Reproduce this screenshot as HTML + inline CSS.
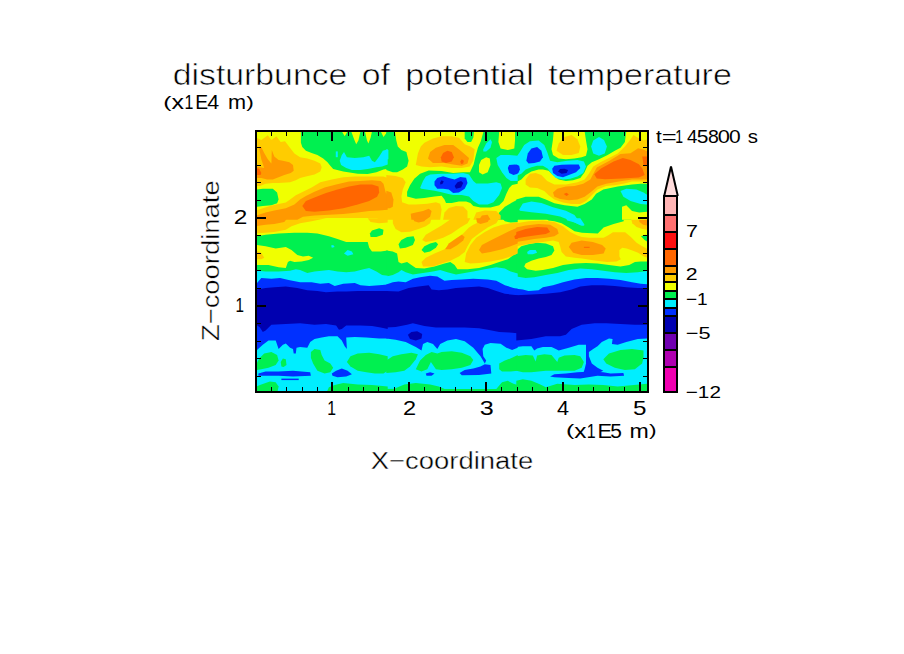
<!DOCTYPE html>
<html><head><meta charset="utf-8"><style>
html,body{margin:0;padding:0;background:#fff;width:904px;height:654px;overflow:hidden}
svg{display:block}
text{font-family:"Liberation Sans",sans-serif;fill:#000}
.thin{stroke:#fff;stroke-width:0.6px}
.thin2{stroke:#fff;stroke-width:0.4px}
</style></head><body>
<svg width="904" height="654" viewBox="0 0 904 654" shape-rendering="crispEdges">
<rect width="904" height="654" fill="#fff"/>
<!-- PLOT -->
<defs><clipPath id="pc"><rect x="257" y="132" width="390" height="259"/></clipPath></defs>
<g id="plot" clip-path="url(#pc)" shape-rendering="geometricPrecision">
<rect x="257" y="132" width="390" height="259" fill="#f0ff00"/>
<!--PLOT-START-->
<g fill="#00f050">
<polygon points="300.9,131.3 341.8,131.3 344.7,136.3 347.6,131.3 351.2,131.3 354.1,139.2 356.2,144.2 358.4,140.6 360.5,131.3 364.9,131.3 367.0,140.6 368.4,143.5 370.6,137.8 372.0,131.3 380.7,131.3 383.5,137.0 387.7,131.3 387.7,168.7 383.5,169.4 376.4,172.3 367.7,174.0 357.7,173.7 343.3,171.5 333.2,169.1 330.3,165.8 327.5,162.2 323.2,158.6 317.4,155.0 311.6,152.9 305.9,150.7 302.3,147.1 300.9,142.8"/>
<polygon points="256.3,189.5 262.8,188.8 272.8,188.8 277.1,192.4 278.6,199.6 277.1,203.2 271.4,205.3 262.8,206.1 256.3,206.8"/>
<polygon points="386.3,131.3 394.9,131.3 396.3,140.6 397.8,146.4 401.4,150.0 406.4,152.1 408.6,160.8 407.1,166.5 402.8,169.4 397.1,172.3 392.8,172.3 386.3,170.1"/>
<polygon points="464.7,131.3 474.0,131.3 473.3,137.8 471.1,142.1 467.5,142.1 464.7,138.5"/>
<polygon points="483.6,131.3 499.2,131.3 498.4,142.1 500.6,148.5 507.8,150.0 514.3,148.5 515.0,140.6 515.0,131.3 517.7,131.3 517.7,183.8 512.1,185.1 509.2,187.9 506.4,193.7 503.5,200.9 499.2,205.2 490.5,207.4 480.5,207.4 473.3,205.9 470.4,203.0 466.1,201.6 458.9,201.6 451.7,203.0 446.0,203.0 444.5,199.4 441.6,195.8 434.5,196.6 424.4,198.0 415.8,198.7 407.1,196.6 407.1,191.7 410.0,185.2 414.3,178.7 420.1,173.7 428.7,170.5 441.6,171.1 453.2,173.0 463.2,172.3 470.0,172.3 473.6,164.4 475.7,155.7 477.9,147.8 480.8,141.3"/>
<polygon points="496.3,219.7 499.2,212.5 504.9,206.8 512.1,202.5 517.7,199.6 517.7,219.7"/>
<polygon points="516.3,131.3 553.7,131.3 553.0,139.2 551.5,149.3 553.0,155.0 558.7,158.6 565.9,159.3 574.5,158.6 581.7,157.2 586.0,155.7 587.5,149.3 586.0,140.6 584.6,131.3 626.3,131.3 624.9,142.1 620.5,147.8 614.8,150.7 607.6,155.0 599.0,159.3 591.8,162.2 587.5,165.8 584.6,172.3 580.3,178.0 573.1,180.2 565.9,180.9 558.7,179.5 553.0,175.1 548.6,170.8 542.9,169.4 538.6,169.4 531.4,171.5 525.6,175.1 521.3,179.5 516.3,182.3"/>
<polygon points="516.3,199.6 525.6,196.7 538.6,196.7 545.8,199.6 554.4,203.2 564.5,205.3 577.4,206.8 584.6,203.9 591.8,199.6 596.1,193.8 603.3,189.5 617.7,186.6 632.0,184.5 640.7,183.8 647.7,183.8 647.7,219.7 516.3,219.7"/>
<polygon points="256.3,236.3 265.6,234.8 278.6,233.4 294.4,232.7 307.3,232.7 317.4,233.4 328.9,236.3 337.5,239.1 346.2,242.0 357.7,242.0 367.7,242.0 369.2,247.8 372.0,251.4 380.7,251.4 387.7,250.6 387.7,306.7 256.3,306.7"/>
<polygon points="369.9,233.4 372.0,230.5 379.2,228.3 383.5,229.8 382.8,234.8 376.4,237.0 370.6,237.0"/>
<polygon points="386.3,250.6 392.8,251.4 397.1,253.5 398.5,262.1 401.4,263.6 407.1,262.1 411.4,265.0 415.8,267.9 424.4,268.6 434.5,266.5 444.5,263.6 450.3,262.1 454.6,265.0 457.5,269.3 467.5,269.3 479.0,267.9 490.5,265.0 499.2,262.1 507.8,259.3 513.5,255.0 517.7,253.5 517.7,306.7 386.3,306.7"/>
<polygon points="545.8,218.3 623.7,218.3 623.7,221.2 613.6,224.0 603.6,227.6 597.8,233.4 582.0,232.7 574.5,231.2 568.8,227.6 561.6,223.3 554.4,221.2 548.6,220.4"/>
<polygon points="516.3,250.6 521.3,246.3 528.5,244.2 537.1,242.7 545.8,243.4 553.0,246.3 554.4,250.6 551.5,255.0 545.8,257.1 538.6,258.5 531.4,260.7 525.6,263.6 524.2,266.5 527.1,269.3 535.7,270.8 542.9,270.1 553.0,267.9 563.0,265.0 574.5,263.6 586.0,262.9 597.5,263.6 609.0,265.0 620.5,266.5 629.2,265.0 634.9,262.1 640.7,261.4 647.7,261.4 647.7,306.7 516.3,306.7"/>
<polygon points="641.0,236.3 645.3,234.8 647.7,235.5 647.7,242.0 644.6,239.9"/>
</g>
<g fill="#00eeff">
<polygon points="335.8,151.4 337.8,151.4 337.8,157.2 335.8,157.2"/>
<polygon points="339.7,160.8 341.8,155.0 344.0,152.1 346.9,157.2 354.8,157.9 363.4,157.2 369.2,155.7 372.0,160.8 374.9,162.2 379.2,156.4 382.8,150.7 387.7,149.3 387.7,164.4 382.1,166.5 376.4,167.2 369.2,168.7 360.5,170.1 351.9,170.1 346.2,168.0 341.1,165.1"/>
<polygon points="386.3,149.3 388.4,150.0 388.4,159.3 386.3,159.3"/>
<polygon points="483.3,149.3 486.2,143.5 490.5,139.2 492.0,142.1 490.5,147.8 486.2,151.4 483.3,151.4"/>
<polygon points="420.1,188.1 423.0,180.9 425.8,176.6 430.1,174.4 441.6,173.7 453.2,173.7 463.2,173.0 469.0,174.4 473.3,180.9 476.2,183.6 487.7,183.6 496.3,182.2 500.6,183.6 502.0,187.9 499.2,195.1 493.4,202.3 487.7,204.5 479.0,204.5 473.3,200.9 469.0,196.6 461.8,195.1 453.2,195.1 447.4,193.7 441.6,192.3 434.5,190.8 421.5,188.7"/>
<polygon points="496.3,157.9 500.6,155.0 509.2,155.0 517.7,155.7 517.7,180.9 510.7,180.9 506.4,178.0 502.0,172.3 497.7,165.1"/>
<polygon points="516.3,157.2 519.9,152.1 524.2,144.9 529.9,141.3 538.6,140.6 544.3,144.9 547.2,152.1 550.1,160.8 557.3,162.2 567.3,160.8 577.4,160.0 583.9,161.5 586.0,166.5 583.2,173.0 577.4,176.6 570.2,178.7 563.0,179.5 555.8,178.0 551.5,173.7 547.9,168.7 542.9,165.8 537.1,165.8 531.4,167.2 525.6,169.4 521.3,173.7 516.3,175.9"/>
<polygon points="591.1,146.4 593.2,140.6 599.0,137.0 604.0,139.9 606.9,146.4 604.7,153.6 599.0,155.7 593.2,153.6"/>
<polygon points="519.2,209.4 522.8,203.6 531.4,201.5 541.4,202.9 553.0,207.2 565.9,210.8 574.5,215.1 578.8,220.9 584.6,225.9 580.3,225.2 571.6,220.9 560.1,216.6 545.8,213.7 531.4,212.2 519.9,210.8"/>
<polygon points="620.5,191.0 626.3,188.8 636.4,189.5 643.5,192.4 647.7,195.3 647.7,204.6 640.7,203.9 630.6,201.0 623.4,196.7"/>
<polygon points="256.3,270.8 265.6,271.5 278.6,271.5 290.1,270.8 295.8,269.3 300.1,270.1 307.3,272.9 314.5,271.5 321.7,270.8 328.9,270.1 337.5,271.5 346.2,272.2 354.8,271.5 363.4,269.3 369.2,267.9 376.4,271.5 382.1,275.1 387.7,275.8 387.7,306.7 256.3,306.7"/>
<polygon points="344.0,253.5 347.6,249.9 351.9,251.4 353.3,254.2 347.6,255.7"/>
<polygon points="331.1,245.6 333.2,244.9 334.7,247.0 331.8,247.8"/>
<polygon points="386.3,276.5 392.8,275.1 398.5,272.2 401.4,270.1 405.7,272.2 412.9,274.4 423.0,272.9 433.0,271.5 440.2,270.1 447.4,272.2 456.0,274.4 464.7,272.9 473.3,271.5 484.8,269.3 496.3,267.2 504.9,268.6 510.7,271.5 517.7,273.6 517.7,306.7 386.3,306.7"/>
<polygon points="565.9,218.3 580.3,218.3 584.6,224.8 581.7,225.5 574.5,222.6 567.3,220.4"/>
<polygon points="527.1,252.1 529.9,249.9 535.7,249.9 537.1,252.8 532.8,254.2 527.8,254.2"/>
<polygon points="516.3,276.5 525.6,278.0 534.3,277.2 545.8,275.1 557.3,272.9 568.8,270.1 580.3,268.6 591.8,269.3 603.3,270.8 614.8,272.2 626.3,272.9 637.8,272.2 647.7,270.8 647.7,306.7 516.3,306.7"/>
<polygon points="256.3,305.3 387.7,305.3 387.7,393.7 256.3,393.7"/>
<polygon points="386.3,305.3 517.7,305.3 517.7,393.7 386.3,393.7"/>
<polygon points="516.3,305.3 647.7,305.3 647.7,393.7 516.3,393.7"/>
</g>
<g fill="#0030ff">
<polygon points="434.5,181.6 437.3,178.0 443.1,176.3 448.8,178.0 454.6,179.5 460.3,176.9 466.1,177.7 467.5,183.1 464.7,188.8 458.9,192.4 453.2,193.1 448.8,189.5 443.1,188.8 437.3,188.8 434.5,185.2"/>
<polygon points="507.8,168.0 509.2,165.1 515.0,164.4 517.7,165.1 517.7,173.7 513.5,175.1 509.2,173.0"/>
<polygon points="526.3,160.8 527.8,153.6 531.4,148.5 537.1,147.1 541.4,150.7 542.9,157.2 540.0,161.5 534.3,162.9 528.5,163.6"/>
<polygon points="552.2,168.7 554.4,165.8 561.6,164.8 570.2,164.4 578.8,164.4 580.3,168.0 576.0,172.3 568.8,175.1 563.0,177.3 557.3,175.9 553.0,173.0"/>
<polygon points="516.3,164.4 519.2,165.8 519.9,169.4 518.4,173.0 516.3,173.0"/>
<polygon points="256.3,283.7 261.3,278.0 271.4,278.7 280.0,278.0 288.6,280.1 300.1,282.3 311.6,282.3 320.3,283.7 328.9,283.0 334.7,285.9 343.3,283.7 354.8,283.0 360.5,285.2 369.2,285.9 379.2,285.2 387.7,284.4 387.7,306.7 256.3,306.7"/>
<polygon points="386.3,284.4 392.8,282.3 398.5,281.6 405.7,282.3 412.9,278.7 420.1,277.2 430.1,275.8 437.3,276.5 444.5,280.8 451.7,280.1 461.8,279.4 473.3,278.7 487.7,279.4 496.3,280.8 504.9,285.2 513.5,288.0 517.7,288.7 517.7,306.7 386.3,306.7"/>
<polygon points="516.3,288.7 522.8,289.5 528.5,290.9 538.6,290.2 542.9,287.3 553.0,285.2 563.0,282.3 574.5,279.4 586.0,278.0 597.5,278.0 609.0,278.7 620.5,280.1 632.0,282.3 640.7,283.7 647.7,284.4 647.7,306.7 516.3,306.7"/>
<polygon points="256.3,305.3 387.7,305.3 387.7,338.4 379.2,338.4 366.3,337.6 354.8,336.9 346.2,337.6 346.9,349.1 344.7,346.3 341.8,340.5 337.5,336.2 328.9,336.2 321.7,337.6 314.5,339.1 310.2,342.0 307.3,347.7 300.1,347.0 296.5,347.7 295.8,353.5 293.7,353.5 293.0,349.1 290.1,347.7 285.8,343.4 282.9,344.8 278.6,349.1 275.7,340.5 268.5,340.5 262.8,344.8 256.3,350.6"/>
<polygon points="386.3,305.3 517.7,305.3 517.7,347.7 512.1,349.9 506.4,347.7 500.6,343.7 490.5,343.1 484.8,344.8 482.6,349.1 483.3,356.3 486.2,360.6 484.8,363.5 480.5,356.3 473.3,347.7 464.7,341.2 456.0,339.1 447.4,340.5 440.2,344.1 437.3,349.1 433.0,344.1 427.3,342.0 423.0,344.1 421.5,350.6 415.8,347.0 405.7,342.0 395.6,339.8 386.3,338.4"/>
<polygon points="516.3,305.3 647.7,305.3 647.7,338.4 637.8,339.1 626.3,342.0 617.7,344.8 611.9,344.1 612.6,339.1 609.0,338.4 601.8,342.0 597.5,346.3 593.2,349.1 588.9,352.0 588.9,356.3 591.8,363.5 597.5,367.8 603.3,370.7 597.5,373.6 583.2,373.6 584.6,369.3 586.0,363.5 586.0,344.8 578.8,344.8 568.8,347.7 558.7,350.6 555.8,349.1 551.5,347.0 542.9,347.0 537.1,348.4 534.3,350.6 531.4,346.3 522.8,346.3 516.3,347.0"/>
</g>
<g fill="#0000b0">
<polygon points="440.2,182.3 441.6,180.2 443.8,181.6 442.4,184.1 440.2,184.5"/>
<polygon points="454.6,185.9 457.5,182.3 461.1,180.9 463.2,183.1 461.1,187.4 456.0,188.8"/>
<polygon points="558.0,171.5 560.1,169.1 564.5,168.7 568.1,170.1 566.6,173.0 561.6,173.7"/>
<polygon points="256.3,289.5 265.6,288.0 274.3,287.3 285.8,286.6 297.3,288.0 307.3,290.2 317.4,290.9 326.0,292.3 337.5,291.6 346.2,291.6 357.7,290.9 372.0,290.9 387.7,290.9 387.7,306.7 256.3,306.7"/>
<polygon points="386.3,290.9 398.5,291.6 408.6,288.0 418.6,286.6 428.7,285.2 431.6,289.5 438.8,290.2 447.4,289.5 456.0,288.0 467.5,287.3 479.0,286.6 487.7,288.0 496.3,290.9 504.9,293.8 517.7,295.2 517.7,306.7 386.3,306.7"/>
<polygon points="516.3,295.2 531.4,294.5 545.8,293.8 560.1,292.3 571.6,289.5 580.3,286.6 591.8,285.2 603.3,285.2 614.8,285.9 626.3,287.3 637.8,288.0 647.7,288.0 647.7,306.7 516.3,306.7"/>
<polygon points="256.3,305.3 387.7,305.3 387.7,329.0 380.7,327.6 372.0,326.1 360.5,325.4 346.2,325.4 341.8,329.0 339.0,329.7 336.1,325.4 326.0,324.0 314.5,324.7 300.1,323.3 285.8,324.0 271.4,324.7 265.6,330.4 262.8,331.9 259.9,327.6 256.3,324.7"/>
<polygon points="386.3,305.3 517.7,305.3 517.7,333.3 509.2,332.6 499.2,331.9 487.7,329.7 479.0,328.3 464.7,327.6 450.3,327.6 435.9,327.6 424.4,326.1 412.9,323.3 407.1,324.7 395.6,326.9 386.3,327.6"/>
<polygon points="516.3,305.3 647.7,305.3 647.7,324.7 634.9,324.7 620.5,324.0 606.2,323.3 594.7,323.3 581.7,324.7 571.6,329.0 565.9,334.8 560.1,336.2 545.8,336.2 531.4,339.1 516.3,340.5"/>
</g>
<g fill="#ffcc00">
<polygon points="256.3,137.8 261.3,139.9 267.8,135.2 271.4,139.9 276.4,136.3 280.7,142.1 285.0,141.3 289.4,147.1 294.4,153.6 300.1,157.2 307.3,158.6 314.5,160.8 320.3,163.6 321.7,167.2 320.3,171.5 314.5,174.4 305.9,176.6 300.1,178.0 295.8,180.2 290.1,182.3 278.6,183.1 272.8,183.1 265.6,183.8 259.9,185.9 256.3,185.9"/>
<polygon points="256.3,210.4 262.8,208.2 269.9,206.1 278.6,203.9 285.8,202.5 290.1,199.6 295.8,195.3 303.0,191.7 311.6,187.4 320.3,182.3 331.8,179.5 343.3,177.3 354.8,176.6 366.3,176.6 376.4,176.6 383.5,176.6 387.7,178.0 387.7,219.7 378.5,219.7 377.1,218.0 357.7,218.0 328.9,218.0 314.5,218.3 300.1,219.0 256.3,219.7"/>
<polygon points="415.8,165.1 417.9,153.6 420.8,146.4 424.4,142.8 433.0,138.5 441.6,136.3 451.7,136.3 458.9,137.8 464.7,144.2 470.4,146.4 474.7,149.3 473.3,160.8 469.7,166.5 461.8,168.0 451.7,168.0 441.6,166.5 430.1,167.2 421.5,166.5"/>
<polygon points="386.3,175.1 395.6,175.9 402.8,178.0 405.7,182.2 402.8,189.4 401.4,196.6 402.1,202.3 408.6,204.5 415.8,204.5 427.3,203.8 435.9,202.3 440.2,203.8 441.6,209.5 440.2,219.7 386.3,219.7"/>
<polygon points="443.1,219.7 444.5,212.4 448.8,208.1 456.0,205.9 463.2,206.6 467.5,210.9 467.5,219.7"/>
<polygon points="473.3,219.7 476.2,212.5 484.8,210.4 496.3,211.1 500.6,215.4 500.6,219.7"/>
<polygon points="556.5,150.7 558.7,143.5 564.5,137.0 571.6,134.9 577.4,139.2 580.3,146.4 578.8,152.9 571.6,155.0 563.0,155.0"/>
<polygon points="525.6,179.5 529.9,173.7 535.7,173.0 541.4,175.1 547.2,180.9 554.4,184.5 565.9,184.5 577.4,182.3 584.6,179.5 588.9,173.7 593.2,166.5 600.4,162.2 609.0,157.9 617.7,153.6 624.9,146.4 630.6,139.2 633.5,134.9 637.8,137.8 643.5,140.6 647.7,139.2 647.7,182.3 642.1,181.6 632.0,181.6 623.4,183.8 614.8,185.2 606.2,185.9 597.5,189.5 591.8,195.3 586.0,201.0 580.3,203.9 571.6,203.9 563.0,202.5 554.4,199.6 548.6,195.3 544.3,191.0 537.1,188.1 529.9,187.4 525.6,184.5"/>
<polygon points="256.3,218.3 326.0,218.3 311.6,221.2 300.1,223.3 291.5,226.2 285.8,229.8 274.3,231.9 265.6,232.7 256.3,233.4"/>
<polygon points="367.7,218.3 387.7,218.3 387.7,222.6 379.2,223.3 370.6,221.9"/>
<polygon points="392.8,218.3 431.6,218.3 430.1,223.3 425.8,226.2 418.6,229.1 410.0,231.7 401.4,232.2 395.6,229.1 392.8,223.3"/>
<polygon points="422.2,239.9 425.8,234.8 433.0,230.5 441.6,225.5 448.8,220.4 451.7,218.3 470.4,218.3 467.5,223.3 460.3,227.6 451.7,233.4 443.1,237.7 434.5,240.6 425.8,242.0"/>
<polygon points="421.5,262.1 425.8,257.8 434.5,253.5 444.5,249.2 450.3,243.4 457.5,237.7 463.2,233.4 469.0,227.6 473.3,224.8 479.0,221.9 486.2,218.3 499.2,218.3 496.3,223.3 487.7,227.6 479.0,233.4 471.8,239.1 467.5,246.3 464.7,252.1 458.9,256.4 450.3,260.7 441.6,263.6 433.0,266.5 423.0,266.5"/>
<polygon points="464.7,262.1 466.1,253.5 470.4,244.9 476.2,237.7 484.8,231.9 493.4,227.6 502.0,224.8 510.7,223.3 517.7,221.9 517.7,253.5 510.7,256.4 502.0,259.3 490.5,261.4 479.0,262.9 470.4,263.6"/>
<polygon points="516.3,223.3 528.5,221.2 542.9,220.4 554.4,221.9 563.0,226.2 570.2,231.9 577.4,235.5 582.0,237.0 589.2,237.7 603.6,237.7 607.9,235.5 612.9,232.2 625.1,232.2 630.9,237.0 636.6,242.7 641.0,245.6 647.7,249.2 647.7,257.8 643.8,256.4 638.1,252.8 632.3,250.6 626.6,248.5 622.3,247.8 619.4,249.9 619.4,256.4 620.8,259.3 616.5,261.4 607.2,262.1 596.4,260.7 582.0,258.5 574.5,257.8 565.9,256.4 561.6,252.1 560.1,246.3 558.7,242.0 553.0,240.6 542.9,242.0 531.4,243.4 522.8,244.9 516.3,246.3"/>
<polygon points="630.9,218.3 647.7,218.3 647.7,229.8 642.4,229.1 636.6,226.9 632.3,223.3"/>
</g>
<g fill="#ff9900">
<polygon points="259.2,148.5 261.3,147.1 264.2,152.9 267.8,159.3 271.4,163.6 271.8,150.0 274.3,156.4 278.6,160.0 282.9,160.8 289.4,162.2 293.0,165.1 293.7,170.8 290.8,173.0 284.3,175.1 278.6,177.3 272.8,179.5 267.1,179.5 261.3,178.0 256.3,178.0 256.3,166.5 264.2,168.0 261.3,159.3"/>
<polygon points="256.3,215.4 265.6,212.5 274.3,210.4 285.8,208.2 294.4,204.6 300.1,199.6 305.9,196.0 314.5,191.7 324.6,187.4 336.1,184.5 349.0,181.6 360.5,180.9 372.0,180.2 380.7,180.9 383.5,183.8 385.7,192.4 387.7,195.3 387.7,209.7 379.2,210.4 369.2,211.1 357.7,212.5 343.3,214.0 328.9,214.7 314.5,215.4 303.0,216.8 297.3,219.7 256.3,219.7"/>
<polygon points="428.0,158.6 430.1,152.1 435.9,147.8 444.5,144.9 453.2,144.9 458.9,149.3 464.7,154.3 469.0,157.9 467.5,163.6 461.8,165.8 453.2,164.4 444.5,162.9 433.0,162.9"/>
<polygon points="386.3,190.8 391.3,192.4 393.5,199.6 392.8,206.8 389.9,208.2 386.3,208.2"/>
<polygon points="410.7,213.8 415.8,212.4 423.0,210.9 428.7,208.8 431.6,210.9 430.1,216.7 425.8,219.7 411.4,219.7"/>
<polygon points="479.0,219.7 481.9,215.4 487.7,214.7 490.5,219.7"/>
<polygon points="553.0,192.4 557.3,188.8 565.9,186.6 574.5,185.9 583.2,183.8 590.3,179.5 596.8,167.5 609.5,160.8 620.4,154.0 630.5,153.3 638.1,148.2 644.0,149.8 647.7,151.6 647.7,179.5 640.7,179.5 632.0,179.5 622.0,180.9 614.8,182.3 606.2,183.8 597.5,186.6 590.3,192.4 584.6,196.7 577.4,199.6 568.8,200.3 560.1,198.9 554.4,196.7"/>
<polygon points="256.3,218.3 287.2,218.3 284.3,221.9 274.3,224.0 265.6,224.8 256.3,226.2"/>
<polygon points="479.0,249.9 481.9,244.9 490.5,240.6 502.0,234.8 510.7,230.5 517.7,227.6 517.7,243.4 510.7,246.3 502.0,249.2 490.5,252.1 481.9,253.5"/>
<polygon points="445.2,249.2 448.8,243.4 456.0,238.4 461.8,234.8 464.7,237.0 463.2,240.6 457.5,244.9 450.3,249.2"/>
<polygon points="412.9,218.3 426.5,218.3 424.4,221.2 418.6,222.6 414.3,221.2"/>
<polygon points="476.2,218.3 489.8,218.3 487.7,221.9 480.5,224.0 476.9,222.6"/>
<polygon points="516.3,227.6 525.6,225.5 538.6,224.0 550.1,224.8 557.3,229.1 558.7,233.4 554.4,236.3 545.8,237.7 534.3,239.1 525.6,240.6 516.3,242.0"/>
<polygon points="568.8,247.0 571.6,242.7 581.7,240.6 592.8,242.0 602.1,244.9 605.7,248.5 603.6,253.5 592.8,255.0 581.7,255.0 573.1,252.8"/>
<polygon points="638.8,218.3 647.7,218.3 647.7,225.5 643.1,224.8 639.5,221.9"/>
</g>
<g fill="#ff6600">
<polygon points="256.3,168.0 259.2,168.7 261.3,173.0 260.6,175.1 256.3,175.1"/>
<polygon points="302.3,206.1 305.9,201.0 314.5,197.4 326.0,193.1 337.5,189.5 349.0,186.6 360.5,184.5 372.0,184.5 378.5,186.6 379.2,192.4 377.1,196.7 369.2,201.0 357.7,204.6 343.3,208.2 328.9,210.4 314.5,211.8 305.9,211.1"/>
<polygon points="440.9,157.2 443.1,152.9 447.4,150.7 451.7,152.1 453.9,157.2 451.7,161.5 446.0,162.9 441.6,161.5"/>
<polygon points="460.3,161.5 461.8,159.3 463.9,160.8 463.2,163.6 461.1,163.9"/>
<polygon points="594.2,174.3 601.0,168.4 613.6,161.6 622.8,157.9 630.5,159.9 638.9,164.2 642.3,168.4 644.7,175.1 638.9,177.6 622.0,178.4 605.2,179.3 596.8,178.4"/>
<polygon points="642.3,156.6 647.7,156.6 647.7,164.9 643.5,164.9"/>
<polygon points="563.7,194.1 566.6,192.7 568.8,194.6 566.6,196.0"/>
<polygon points="514.3,236.3 517.7,233.4 517.7,239.1 515.0,239.1"/>
<polygon points="516.3,231.9 525.6,229.1 537.1,226.9 547.2,227.6 550.1,231.9 545.8,234.1 534.3,235.5 524.2,237.0 516.3,238.4"/>
<polygon points="583.9,246.8 589.6,246.8 589.6,247.8 583.9,247.8"/>
</g>
<g fill="#f0ff00">
<polygon points="479.0,165.1 481.2,160.0 486.2,157.2 489.8,158.6 490.5,165.1 487.7,172.3 482.6,174.4 479.0,172.3"/>
<polygon points="622.0,206.8 626.3,205.3 632.0,211.1 639.2,212.5 647.7,211.8 647.7,219.7 622.0,219.7"/>
<polygon points="256.3,244.9 265.6,246.3 275.7,248.5 285.8,247.0 291.5,249.9 297.3,255.0 303.0,256.4 308.8,255.7 313.1,257.8 308.8,260.0 301.6,261.4 294.4,262.1 290.1,260.7 287.9,262.1 285.8,267.9 278.6,267.2 268.5,265.0 256.3,265.0"/>
</g>
<g fill="#00f050">
<polygon points="398.5,244.2 401.4,239.9 407.1,237.0 413.6,236.3 415.0,239.9 412.9,244.9 405.7,247.8 399.9,248.5"/>
<polygon points="421.5,249.9 424.4,246.3 430.1,243.4 435.9,242.0 438.1,244.2 435.9,247.8 430.1,251.4 424.4,252.8"/>
<polygon points="502.0,218.3 517.7,218.3 517.7,221.9 510.7,222.6 504.9,221.2"/>
<polygon points="256.3,363.5 259.9,357.8 264.2,353.5 271.4,352.0 277.1,354.9 278.6,360.6 275.7,365.0 268.5,367.8 261.3,369.3 256.3,370.0"/>
<polygon points="280.7,362.1 282.9,358.5 285.8,359.2 286.5,365.0 283.6,367.1 281.4,366.4"/>
<polygon points="310.9,352.0 314.5,349.1 320.3,349.9 321.7,354.9 324.6,360.6 330.3,363.5 333.2,367.8 330.3,372.2 324.6,373.6 317.4,370.7 313.1,363.5 310.9,357.8"/>
<polygon points="346.9,362.1 350.5,356.3 357.7,353.5 369.2,352.7 379.2,354.2 387.7,356.3 387.7,370.7 383.5,373.6 374.9,373.6 366.3,372.2 357.7,370.7 350.5,366.4"/>
<polygon points="256.3,386.5 261.3,384.4 269.9,381.5 275.7,382.2 278.6,386.5 277.1,393.7 256.3,393.7"/>
<polygon points="326.0,393.7 328.9,387.2 334.7,385.1 343.3,382.9 357.7,384.4 372.0,385.1 387.7,386.5 387.7,393.7"/>
<polygon points="386.3,360.6 392.8,356.3 401.4,354.2 411.4,352.7 417.9,354.2 415.8,359.2 410.0,366.4 404.3,370.7 395.6,372.2 386.3,372.9"/>
<polygon points="415.8,369.3 420.1,360.6 425.8,354.9 431.6,352.0 437.3,353.5 441.6,352.0 451.7,351.3 461.8,352.7 470.4,356.3 473.3,359.9 470.4,365.0 461.8,367.8 451.7,369.3 441.6,370.0 435.9,369.3 433.0,365.0 430.9,362.1 429.4,365.0 427.3,369.3 421.5,371.4"/>
<polygon points="499.2,363.5 504.9,360.6 512.1,357.8 517.7,354.9 517.7,370.7 510.7,371.4 502.0,371.4 499.2,369.3"/>
<polygon points="386.3,393.7 386.3,389.1 394.2,388.7 404.3,384.4 415.8,382.9 430.1,384.4 438.8,386.5 444.5,389.1 517.7,389.1 517.7,393.7"/>
<polygon points="496.3,389.1 502.0,382.2 507.8,380.8 513.5,383.7 517.7,385.1 517.7,389.1"/>
<polygon points="516.3,356.3 525.6,354.9 532.8,355.6 535.7,361.4 537.1,355.6 544.3,354.2 551.5,354.9 557.3,362.1 558.7,357.8 564.5,355.6 574.5,354.9 580.3,356.3 583.9,362.1 581.7,367.8 574.5,370.7 560.1,370.7 545.8,370.7 531.4,372.2 522.8,372.2 516.3,370.7"/>
<polygon points="603.3,359.2 609.0,353.5 620.5,349.9 632.0,349.1 643.5,350.6 643.5,357.8 642.1,363.5 634.9,369.3 624.9,370.0 614.8,367.8 606.2,363.5"/>
<polygon points="516.3,393.7 516.3,380.8 522.8,379.3 531.4,380.8 538.6,383.7 541.4,385.1 545.8,387.2 557.3,383.7 574.5,385.1 588.9,384.4 603.3,385.1 617.7,386.5 639.2,384.4 647.7,383.7 647.7,393.7"/>
</g>
<g fill="#0030ff">
<polygon points="258.4,373.6 265.6,371.4 278.6,371.4 293.0,370.7 310.2,372.2 310.9,375.7 293.0,376.5 278.6,375.7 265.6,375.7 258.4,375.7"/>
<polygon points="331.8,373.6 336.1,370.7 341.8,368.6 347.6,370.7 351.9,374.3 346.2,376.5 337.5,377.2 332.5,375.7"/>
<polygon points="281.4,378.6 298.7,378.6 298.7,380.1 281.4,380.1"/>
<polygon points="459.6,372.9 464.7,370.0 473.3,368.6 480.5,366.4 484.8,364.2 490.5,365.0 491.3,373.6 479.0,375.0 461.8,375.3"/>
<polygon points="425.8,373.6 430.1,372.2 434.5,373.6 431.6,375.7 426.5,375.7"/>
<polygon points="550.1,376.5 554.4,374.3 565.9,373.6 577.4,372.2 591.8,371.4 603.3,372.2 610.5,373.6 623.4,372.9 624.1,375.7 610.5,376.5 597.5,375.7 580.3,378.6 568.8,377.9 554.4,377.2"/>
</g>
<g fill="#0000b0">
<polygon points="407.9,334.8 411.4,331.9 417.2,331.2 422.2,334.0 421.5,338.4 415.8,340.5 410.0,339.1"/>
</g>
<g fill="#ffcc00">
<polygon points="256.3,250.6 261.3,252.8 264.2,257.8 261.3,259.3 256.3,259.3"/>
</g>
<!--PLOT-END-->
</g>
<!-- axes box -->
<rect x="256" y="131" width="392" height="261" fill="none" stroke="#000" stroke-width="2"/>
<g id="ticks" fill="#000"><rect x="271" y="132" width="1" height="4"/><rect x="271" y="387" width="1" height="4"/><rect x="286" y="132" width="1" height="4"/><rect x="286" y="387" width="1" height="4"/><rect x="302" y="132" width="1" height="4"/><rect x="302" y="387" width="1" height="4"/><rect x="317" y="132" width="1" height="4"/><rect x="317" y="387" width="1" height="4"/><rect x="331" y="132" width="2" height="9"/><rect x="331" y="382" width="2" height="9"/><rect x="348" y="132" width="1" height="4"/><rect x="348" y="387" width="1" height="4"/><rect x="363" y="132" width="1" height="4"/><rect x="363" y="387" width="1" height="4"/><rect x="378" y="132" width="1" height="4"/><rect x="378" y="387" width="1" height="4"/><rect x="394" y="132" width="1" height="4"/><rect x="394" y="387" width="1" height="4"/><rect x="408" y="132" width="2" height="9"/><rect x="408" y="382" width="2" height="9"/><rect x="424" y="132" width="1" height="4"/><rect x="424" y="387" width="1" height="4"/><rect x="440" y="132" width="1" height="4"/><rect x="440" y="387" width="1" height="4"/><rect x="455" y="132" width="1" height="4"/><rect x="455" y="387" width="1" height="4"/><rect x="471" y="132" width="1" height="4"/><rect x="471" y="387" width="1" height="4"/><rect x="485" y="132" width="2" height="9"/><rect x="485" y="382" width="2" height="9"/><rect x="501" y="132" width="1" height="4"/><rect x="501" y="387" width="1" height="4"/><rect x="517" y="132" width="1" height="4"/><rect x="517" y="387" width="1" height="4"/><rect x="532" y="132" width="1" height="4"/><rect x="532" y="387" width="1" height="4"/><rect x="547" y="132" width="1" height="4"/><rect x="547" y="387" width="1" height="4"/><rect x="562" y="132" width="2" height="9"/><rect x="562" y="382" width="2" height="9"/><rect x="578" y="132" width="1" height="4"/><rect x="578" y="387" width="1" height="4"/><rect x="593" y="132" width="1" height="4"/><rect x="593" y="387" width="1" height="4"/><rect x="609" y="132" width="1" height="4"/><rect x="609" y="387" width="1" height="4"/><rect x="624" y="132" width="1" height="4"/><rect x="624" y="387" width="1" height="4"/><rect x="639" y="132" width="2" height="9"/><rect x="639" y="382" width="2" height="9"/><rect x="257" y="376" width="4" height="1"/><rect x="643" y="376" width="4" height="1"/><rect x="257" y="358" width="4" height="1"/><rect x="643" y="358" width="4" height="1"/><rect x="257" y="341" width="4" height="1"/><rect x="643" y="341" width="4" height="1"/><rect x="257" y="323" width="4" height="1"/><rect x="643" y="323" width="4" height="1"/><rect x="257" y="305" width="9" height="2"/><rect x="638" y="305" width="9" height="2"/><rect x="257" y="288" width="4" height="1"/><rect x="643" y="288" width="4" height="1"/><rect x="257" y="270" width="4" height="1"/><rect x="643" y="270" width="4" height="1"/><rect x="257" y="253" width="4" height="1"/><rect x="643" y="253" width="4" height="1"/><rect x="257" y="235" width="4" height="1"/><rect x="643" y="235" width="4" height="1"/><rect x="257" y="217" width="9" height="2"/><rect x="638" y="217" width="9" height="2"/><rect x="257" y="200" width="4" height="1"/><rect x="643" y="200" width="4" height="1"/><rect x="257" y="182" width="4" height="1"/><rect x="643" y="182" width="4" height="1"/><rect x="257" y="165" width="4" height="1"/><rect x="643" y="165" width="4" height="1"/><rect x="257" y="147" width="4" height="1"/><rect x="643" y="147" width="4" height="1"/></g>
<!-- colorbar -->
<g id="cbar" shape-rendering="crispEdges">
<polygon points="671,167 664.5,196 677.5,196" fill="#ffdcdc"/><polyline points="664.2,196 671,166.5 677.8,196" fill="none" stroke="#000" stroke-width="2" stroke-linejoin="miter" shape-rendering="geometricPrecision"/>
<rect x="663" y="195" width="15" height="198" fill="#000"/>
<rect x="665" y="197" width="11" height="17" fill="#ffb4b4"/>
<rect x="665" y="216" width="11" height="15" fill="#ff7070"/>
<rect x="665" y="233" width="11" height="15" fill="#ff1010"/>
<rect x="665" y="250" width="11" height="15" fill="#ff6600"/>
<rect x="665" y="267" width="11" height="6" fill="#ff9900"/>
<rect x="665" y="275" width="11" height="6" fill="#ffcc00"/>
<rect x="665" y="283" width="11" height="7" fill="#f0ff00"/>
<rect x="665" y="292" width="11" height="6" fill="#00f050"/>
<rect x="665" y="300" width="11" height="7" fill="#00eeff"/>
<rect x="665" y="309" width="11" height="6" fill="#0030ff"/>
<rect x="665" y="317" width="11" height="15" fill="#0000b0"/>
<rect x="665" y="334" width="11" height="15" fill="#7000b0"/>
<rect x="665" y="351" width="11" height="15" fill="#b000b0"/>
<rect x="665" y="368" width="11" height="23" fill="#f000b0"/>
</g>
<!-- texts -->
<text transform="translate(163.25,107.5) scale(1.550,1)" font-size="16">(</text>
<text transform="translate(171.56,108.8) scale(1.244,1)" font-size="20">x</text>
<text transform="translate(184.5,108.8) scale(0.8,1)" font-size="20">1</text>
<text transform="translate(195.17,108.8) scale(0.964,1)" font-size="20">E</text>
<text transform="translate(207.20,108.8) scale(1.073,1)" font-size="20">4</text>
<text transform="translate(227.91,108.8) scale(1.086,1)" font-size="20">m</text>
<text transform="translate(246.20,107.5) scale(1.425,1)" font-size="16">)</text>
<text transform="translate(566.03,436.2) scale(1.575,1)" font-size="16">(</text>
<text transform="translate(574.28,437.5) scale(1.222,1)" font-size="20">x</text>
<text transform="translate(586.8,437.5) scale(0.8,1)" font-size="20">1</text>
<text transform="translate(597.52,437.5) scale(1.091,1)" font-size="20">E</text>
<text transform="translate(610.16,437.5) scale(1.044,1)" font-size="20">5</text>
<text transform="translate(629.54,437.5) scale(1.157,1)" font-size="20">m</text>
<text transform="translate(649.10,436.2) scale(1.425,1)" font-size="16">)</text>
<text transform="translate(655.90,143.2) scale(1.180,1)" font-size="17.5">t</text>
<text transform="translate(661.64,143.2) scale(1.462,1)" font-size="17.5">=</text>
<text transform="translate(675.3,143.2) scale(0.8,1)" font-size="17.5">1</text>
<text transform="translate(687.10,143.2) scale(1.067,1)" font-size="17.5">4</text>
<text transform="translate(696.70,143.2) scale(1.200,1)" font-size="17.5">5</text>
<text transform="translate(707.89,143.2) scale(1.112,1)" font-size="17.5">8</text>
<text transform="translate(717.85,143.2) scale(1.250,1)" font-size="17.5">0</text>
<text transform="translate(729.10,143.2) scale(1.200,1)" font-size="17.5">0</text>
<text transform="translate(747.83,143.2) scale(1.171,1)" font-size="17.5">s</text>
<text transform="translate(172.75,85) scale(1.126,1)" font-size="30" class="thin">disturbunce</text>
<text transform="translate(361.74,85) scale(1.130,1)" font-size="30" class="thin">of</text>
<text transform="translate(405.23,85) scale(1.133,1)" font-size="30" class="thin">potential</text>
<text transform="translate(548.36,85) scale(1.135,1)" font-size="30" class="thin">temperature</text>
<text transform="translate(370.76,469) scale(1.120,1)" font-size="24.5" class="thin2">X&#8722;coordinate</text>
<g transform="translate(218.5,340) rotate(-90)"><text transform="translate(-1.12,0) scale(1.120,1)" font-size="24.5" class="thin2">Z&#8722;coordinate</text></g>
<text transform="translate(327.23,415) scale(0.788,1)" font-size="20">1</text>
<text transform="translate(403.02,415) scale(1.178,1)" font-size="20">2</text>
<text transform="translate(479.74,415) scale(1.256,1)" font-size="20">3</text>
<text transform="translate(557.00,415) scale(1.082,1)" font-size="20">4</text>
<text transform="translate(632.89,415) scale(1.211,1)" font-size="20">5</text>
<text transform="translate(233.78,224) scale(1.222,1)" font-size="20">2</text>
<text transform="translate(235.47,312) scale(0.762,1)" font-size="20">1</text>
<text transform="translate(685.94,237) scale(1.262,1)" font-size="17">7</text>
<text transform="translate(685.75,280) scale(1.250,1)" font-size="17">2</text>
<text transform="translate(685.88,304.5) scale(1.122,1)" font-size="17">&#8722;1</text>
<text transform="translate(685.82,338.5) scale(1.278,1)" font-size="17">&#8722;5</text>
<text transform="translate(685.78,397.8) scale(1.219,1)" font-size="17">&#8722;12</text>
</svg>
</body></html>
